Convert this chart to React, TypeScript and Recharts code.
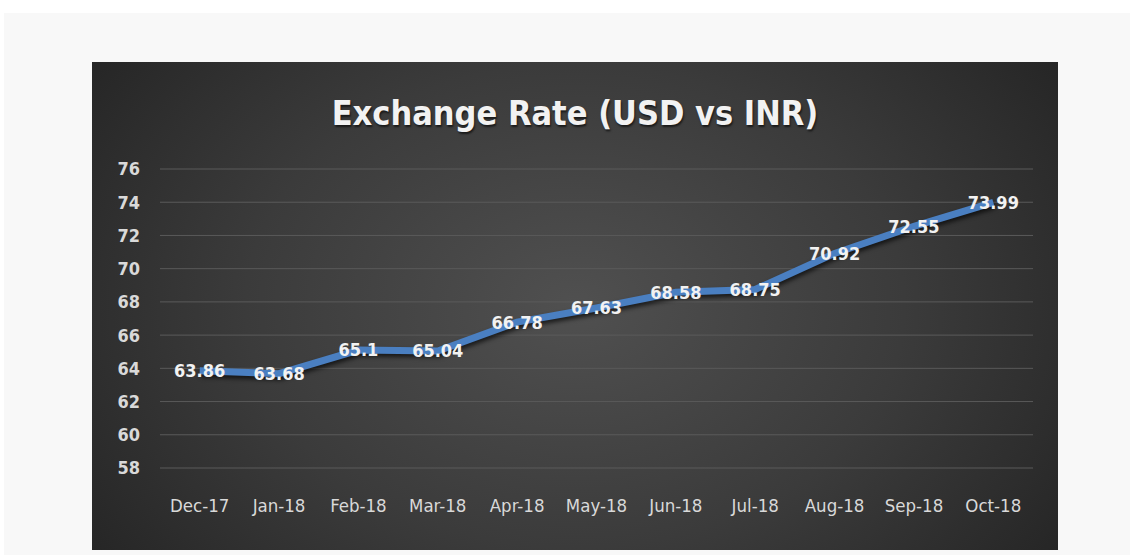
import { LineChart, Line, XAxis, YAxis, CartesianGrid, LabelList } from 'recharts';

const months = ['Dec-17', 'Jan-18', 'Feb-18', 'Mar-18', 'Apr-18', 'May-18', 'Jun-18', 'Jul-18', 'Aug-18', 'Sep-18', 'Oct-18'];
const rates = [63.86, 63.68, 65.1, 65.04, 66.78, 67.63, 68.58, 68.75, 70.92, 72.55, 73.99];
const yTicks = [58, 60, 62, 64, 66, 68, 70, 72, 74, 76];

const chartData = months.map((month, i) => ({ month, rate: rates[i] }));

const FONT = "'DejaVu Sans Condensed', 'DejaVu Sans', sans-serif";

export default function App() {
  return (
    <div style={{ position: 'absolute', left: 0, top: 0, width: 1130, height: 555, background: '#ffffff', overflow: 'hidden' }}>
      <style>{`
        .rate-line .recharts-line-curve { filter: drop-shadow(1px 3px 2px rgba(0,0,0,0.65)); }
        .rate-label text { filter: drop-shadow(1px 1px 1px rgba(0,0,0,0.6)); }
      `}</style>
      <div style={{ position: 'absolute', left: 4, top: 13, width: 1126, height: 542, background: '#f8f8f8' }} />
      <div
        style={{
          position: 'absolute',
          left: 92,
          top: 62,
          width: 966,
          height: 488,
          background: 'radial-gradient(ellipse 62% 90% at 50% 50%, #505050 0%, #3b3b3b 55%, #252525 100%)',
        }}
      >
        <div
          style={{
            position: 'absolute',
            left: 0,
            top: 31,
            width: 966,
            textAlign: 'center',
            fontFamily: FONT,
            fontStretch: 'condensed',
            fontWeight: 'bold',
            fontSize: 34,
            color: '#f2f2f2',
            textShadow: '1px 2px 2px rgba(0,0,0,0.6)',
          }}
        >
          Exchange Rate (USD vs INR)
        </div>
        <LineChart
          width={966}
          height={488}
          data={chartData}
          margin={{ top: 107, right: 25, bottom: 22, left: 0 }}
          style={{ position: 'absolute', left: 0, top: 0 }}
        >
          <CartesianGrid horizontal vertical={false} stroke="#5a5a5a" strokeWidth={1} />
          <XAxis
            dataKey="month"
            height={60}
            padding={{ left: 39.7, right: 39.7 }}
            axisLine={false}
            tickLine={false}
            tickSize={0}
            tickMargin={31}
            interval={0}
            tick={{ fill: '#d9d9d9', fontSize: 18.5, fontFamily: FONT }}
          />
          <YAxis
            domain={[58, 76]}
            ticks={yTicks}
            width={68}
            axisLine={false}
            tickLine={false}
            tickSize={0}
            tickMargin={20}
            tick={{ fill: '#d9d9d9', fontSize: 18, fontWeight: 'bold', fontFamily: FONT }}
          />
          <Line
            className="rate-line"
            type="linear"
            dataKey="rate"
            stroke="#4a7fc1"
            strokeWidth={7}
            dot={false}
            isAnimationActive={false}
          >
            <LabelList
              className="rate-label"
              dataKey="rate"
              position="center"
              fill="#f2f2f2"
              fontSize={18}
              fontWeight="bold"
              fontFamily={FONT}
            />
          </Line>
        </LineChart>
      </div>
    </div>
  );
}
